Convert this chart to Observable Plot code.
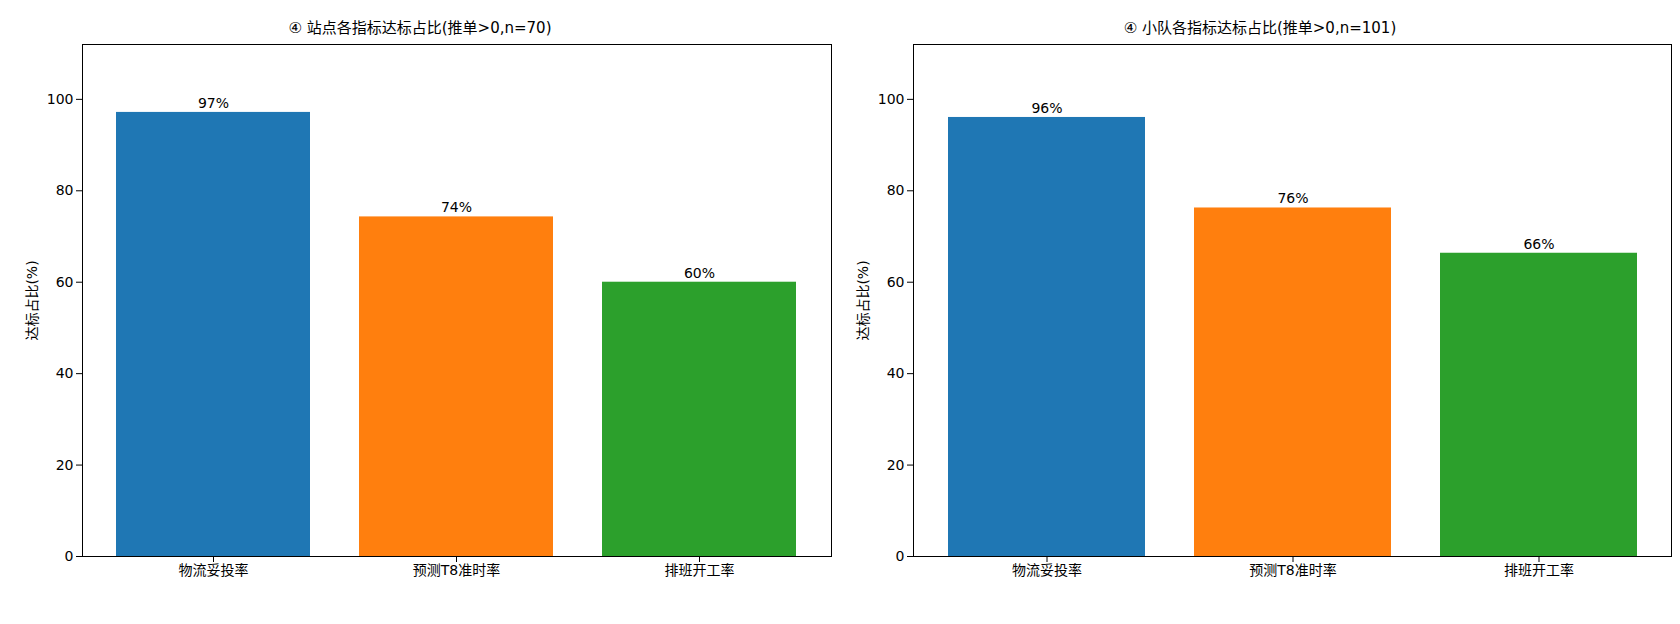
<!DOCTYPE html>
<html><head><meta charset="utf-8">
<script src="https://cdn.jsdelivr.net/npm/d3@7"></script>
<script src="https://cdn.jsdelivr.net/npm/@observablehq/plot@0.6"></script>
<style>
body{margin:0;background:#fff;font-family:"DejaVu Sans","Noto Sans CJK SC",sans-serif;}
#wrap{display:flex;width:1680px;}
.p{width:840px;height:624px;position:relative;}
.t{position:absolute;top:16px;width:100%;text-align:center;font-size:15px;}
</style></head><body><div id="wrap"></div>
<script>
const categories = ["物流妥投率","预测T8准时率","排班开工率"];
const colors = ["#1f77b4","#ff7f0e","#2ca02c"];
const titles = ["④ 站点各指标达标占比(推单>0,n=70)","④ 小队各指标达标占比(推单>0,n=101)"];
const counts = [[68,52,42],[97,77,67]];
const totals = [70,101];
const yTicks = [0,20,40,60,80,100];
const margins = [[82,9],[73,9]];

counts.forEach((cs,pi)=>{
  const n = totals[pi];
  const data = categories.map((c,i)=>({c, v: cs[i]/n*100, lab: c+"\n("+cs[i]+"/"+n+")", col: colors[i]}));
  const div = document.createElement("div"); div.className="p";
  const t = document.createElement("div"); t.className="t"; t.textContent = titles[pi]; div.appendChild(t);
  const svg = Plot.plot({
    width:840, height:624, marginLeft:margins[pi][0], marginRight:margins[pi][1], marginTop:44, marginBottom:68,
    style:{fontSize:"14px", fontFamily:"DejaVu Sans, Noto Sans CJK SC, sans-serif", color:"#000", background:"transparent"},
    x:{domain:categories, paddingInner:0.2, paddingOuter:0.14, label:null,
       tickFormat:(c)=>{const d=data.find(e=>e.c===c); return d.lab;}},
    y:{domain:[0,112], ticks:yTicks, label:"达标占比(%)", labelAnchor:"center", labelArrow:"none"},
    marks:[
      Plot.barY(data,{x:"c",y:"v",fill:"col"}),
      Plot.text(data,{x:"c",y:"v",text:d=>Math.round(d.v)+"%",dy:-9,fontSize:14,fill:"#000"}),
      Plot.axisY({ticks:yTicks, tickSize:6, label:"达标占比(%)", labelAnchor:"center", labelArrow:"none", labelOffset:55, fontSize:14}),
      Plot.axisX({tickSize:6, fontSize:14, lineHeight:1.0}),
      Plot.frame({stroke:"#000"})
    ]
  });
  div.appendChild(svg);
  document.getElementById("wrap").appendChild(div);
});
</script></body></html>
